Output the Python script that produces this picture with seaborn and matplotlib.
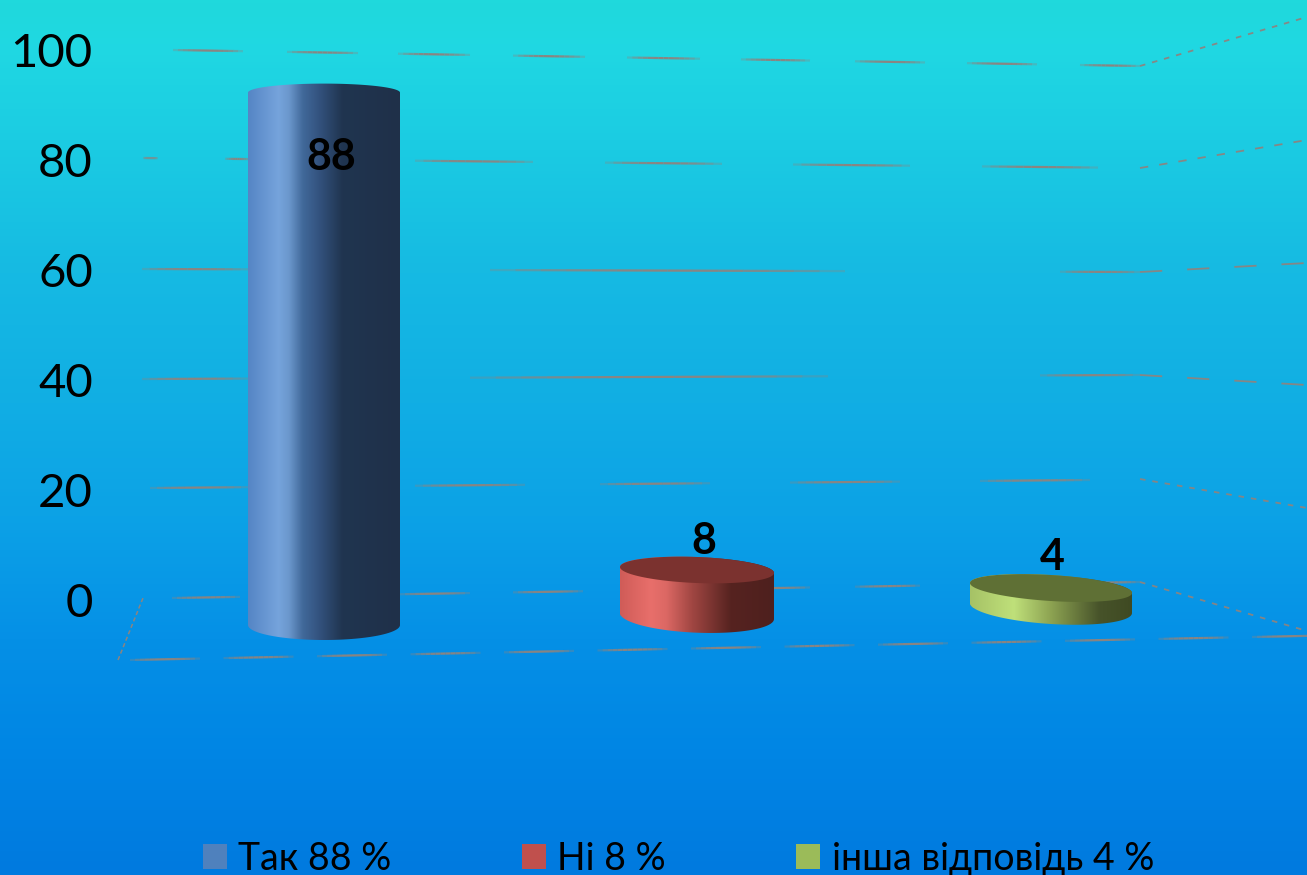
#%%
import matplotlib
matplotlib.use('Agg')
import matplotlib.pyplot as plt
import seaborn as sns
import numpy as np
import pandas as pd
from matplotlib.colors import LinearSegmentedColormap
from matplotlib.patches import Patch, Polygon

#%% values
answers = ['Так', 'Ні', 'інша відповідь']
percent = [88, 8, 4]
legend_labels = ['Так 88 %', 'Ні 8 %', 'інша відповідь 4 %']
value_ticks = [0, 20, 40, 60, 80, 100]

#%% styles
W, H = 1307, 875
office_colors = ['#4F81BD', '#C0504D', '#9BBB59']
side_stops = [
    [(0, '#5585C5'), (.2, '#76A4DC'), (.27, '#6B97CC'), (.36, '#41699A'), (.47, '#33527E'), (.62, '#203550'), (1, '#1F3049')],
    [(0, '#D05C58'), (.2, '#E86F6B'), (.3, '#DC6864'), (.47, '#A04642'), (.72, '#562320'), (1, '#4E201E')],
    [(0, '#A6C266'), (.27, '#BFE07A'), (.5, '#8DA352'), (.8, '#47532A'), (1, '#3F4A22')],
]
cap_colors = [None, '#7B322F', '#5F7035']
# perspective of the 3d box, per bar, in pixels
shift_x = [0, 9.5, 0]
bar_w = [152, 154, 162]
floor_shift = [0, 9, 17]
depth = [1, .95, .826]
cap_b = [9, 13, 13]
foot_b = [15, 16.7, 16]
tilt = [0, 3, 5]
label_xy = [(331, 157), (704, 541), (1052, 557)]

sns.set_theme(style='white')
plt.rcParams['font.family'] = ['Lato', 'Noto Sans', 'DejaVu Sans']
plt.rcParams['lines.scale_dashes'] = False

fig = plt.figure(figsize=(W / 100, H / 100), dpi=100)

#%% background layer
bg = fig.add_axes([0, 0, 1, 1], zorder=0)
bg_cmap = LinearSegmentedColormap.from_list('bg', [
    (0, '#1FD9DC'), (.05, '#20D8E2'), (.17, '#1BCBE2'), (.31, '#16BAE3'), (.46, '#11AEE4'),
    (.59, '#0CA2E6'), (.73, '#0590E6'), (.87, '#0085E4'), (1, '#007ADF')])
bg.imshow(np.linspace(0, 1, 256)[:, None], cmap=bg_cmap, aspect='auto', extent=(0, W, H, 0))
bg.set_xlim(0, W)
bg.set_ylim(H, 0)
bg.axis('off')


def soft_dash(x0, y0, x1, y1, n=14):
    # grey dash that fades out at both ends
    xs = np.linspace(x0, x1, n + 1)
    ys = np.linspace(y0, y1, n + 1)
    for i in range(n):
        a = np.sin(np.pi * (i + .5) / n) ** .5
        bg.plot(xs[i:i + 2], ys[i:i + 2], color='#8C8480', lw=1.6, alpha=a, solid_capstyle='butt')


# back wall gridlines: (x0, x1) of each visible dash, y follows the wall tilt
wall_dashes = {
    100: (50, 66, 173, 1140, [(173, 243), (287, 358), (398, 470), (513, 585), (627, 700), (741, 810), (855, 925), (967, 1037), (1080, 1140)]),
    80: (158, 168, 143, 1140, [(143, 158), (225, 250), (415, 533), (605, 722), (793, 910), (982, 1098)]),
    60: (269, 272, 142, 1140, [(142, 248), (490, 845), (1060, 1140)]),
    40: (379, 375, 142, 1140, [(142, 248), (470, 828), (1040, 1140)]),
    20: (488, 480, 150, 1090, [(150, 248), (415, 525), (600, 710), (790, 900), (980, 1090)]),
    0: (598, 582, 172, 1140, [(172, 240), (400, 470), (513, 583), (627, 697), (740, 810), (855, 920), (1080, 1140)]),
}
for tick, (y0, y1, x0, x1, dashes) in wall_dashes.items():
    for a, b in dashes:
        soft_dash(a, np.interp(a, [x0, x1], [y0, y1]), b, np.interp(b, [x0, x1], [y0, y1]))

# side wall, dotted
side_wall = [(66, 17, (4, 5)), (168, 140, (6, 8)), (272, 263, (16, 18)),
             (375, 385, (16, 18)), (479, 508, (4, 5)), (582, 631, (4, 5))]
for y0, y1, pattern in side_wall:
    bg.plot([1140, W], [y0, y1], color='#8C8480', lw=1.3, dashes=pattern, alpha=.95)

# floor front edge and left edge
for a in np.arange(130, 1300, 93.5):
    soft_dash(a, 660 - (a - 130) * .0205, a + 70, 660 - (a + 70 - 130) * .0205)
bg.plot([118, 143], [660, 598], color='#8C8480', lw=1.1, dashes=(3, 2))

#%% value axis
val_ax = fig.add_axes([140 / W, 1 - 600 / H, 1000 / W, 550 / H], zorder=1)
val_ax.patch.set_alpha(0)
val_ax.set_ylim(0, 100)
val_ax.set_yticks(value_ticks)
val_ax.set_xticks([])
val_ax.tick_params(axis='y', length=0, pad=34, labelsize=34, labelcolor='black')
sns.despine(ax=val_ax, left=True, bottom=True)

#%% bars
px_per_cat = 363.5
px_per_val = 6.05
bar_ax = fig.add_axes([0, 0, 1, 1], zorder=2)
bar_ax.patch.set_alpha(0)
df = pd.DataFrame({'answer': answers, 'percent': percent})
sns.barplot(data=df, x='answer', y='percent', hue='answer', palette=office_colors,
            width=.42, legend=False, linewidth=0, ax=bar_ax)
bar_ax.set_xlim(-324 / px_per_cat, (W - 324) / px_per_cat)
bar_ax.set_ylim((625 - H) / px_per_val, 625 / px_per_val)
bar_ax.axis('off')

top = fig.add_axes([0, 0, 1, 1], zorder=3)
top.patch.set_alpha(0)
top.axis('off')
top.set_xlim(0, W)
top.set_ylim(H, 0)

for i, patch in enumerate(bar_ax.patches):
    w = bar_w[i] / px_per_cat
    patch.set_x(patch.get_x() + patch.get_width() / 2 - w / 2 + shift_x[i] / px_per_cat)
    patch.set_width(w)
    patch.set_y(floor_shift[i] / px_per_val)
    patch.set_height(patch.get_height() * depth[i])

fig.canvas.draw()
for i, patch in enumerate(bar_ax.patches):
    box = patch.get_window_extent()
    x0, x1 = box.x0, box.x1
    cx, a = (x0 + x1) / 2, (x1 - x0) / 2
    y_cap, y_foot = H - box.y1, H - box.y0

    t = np.linspace(0, np.pi, 80)
    ex = np.cos(t)
    # outline: upper arc of the cap, then lower arc of the foot
    upper_x = cx - a * ex
    upper_y = y_cap + tilt[i] * -ex - cap_b[i] * np.sin(t)
    lower_x = cx + a * ex
    lower_y = y_foot + tilt[i] * ex + foot_b[i] * np.sin(t)
    outline = np.column_stack([np.r_[upper_x, lower_x], np.r_[upper_y, lower_y]])
    clip = Polygon(outline, closed=True, transform=top.transData, fc='none', ec='none')
    top.add_patch(clip)
    patch.set_clip_path(clip)
    cmap = LinearSegmentedColormap.from_list(f'side{i}', side_stops[i])
    im = top.imshow(np.linspace(0, 1, 256)[None, :], cmap=cmap, aspect='auto',
                    extent=(x0, x1, y_foot + 30, y_cap - 30), zorder=2)
    im.set_clip_path(clip)
    if cap_colors[i]:
        tt = np.linspace(0, 2 * np.pi, 120)
        cap = np.column_stack([cx + a * np.cos(tt),
                               y_cap + tilt[i] * np.cos(tt) + cap_b[i] * np.sin(tt)])
        top.add_patch(Polygon(cap, closed=True, fc=cap_colors[i], ec='none', zorder=3))
    top.text(*label_xy[i], str(percent[i]), ha='center', va='center', fontsize=31,
             fontweight='bold', color='black', zorder=4)

top.set_xlim(0, W)
top.set_ylim(H, 0)

#%% legend runs off the bottom edge in the original
handles = [Patch(color=c, lw=0) for c in office_colors]
fig.legend(handles, legend_labels, ncol=3, frameon=False, fontsize=27,
           loc='lower left', bbox_to_anchor=(203 / W, -2 / H), borderpad=0, borderaxespad=0,
           handlelength=.64, handleheight=.64, handletextpad=.3, columnspacing=3.48,
           labelcolor='black')

fig.savefig('out.png', dpi=100)
